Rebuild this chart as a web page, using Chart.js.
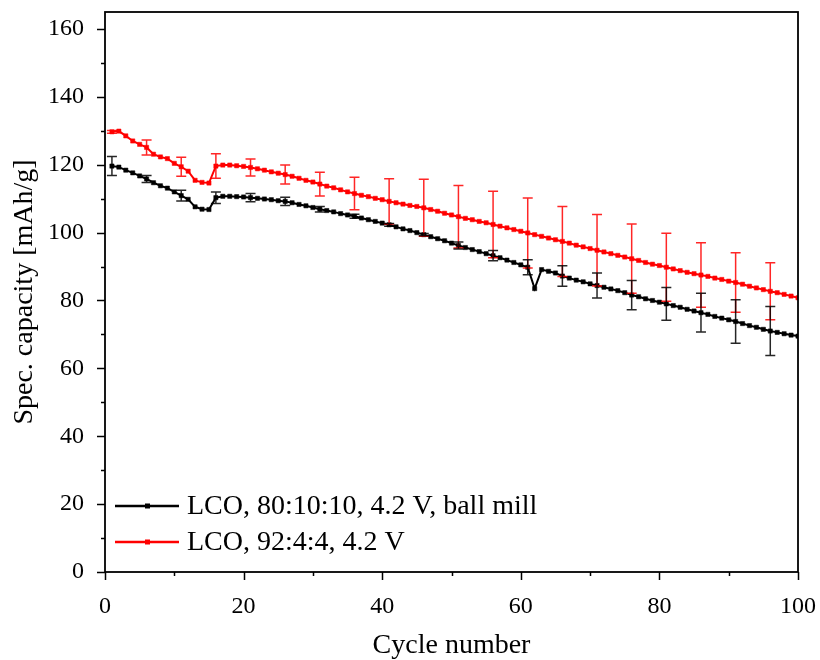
<!DOCTYPE html>
<html>
<head>
<meta charset="utf-8">
<script src="https://cdn.jsdelivr.net/npm/chart.js@4.4.1/dist/chart.umd.min.js"></script>
<style>
  html, body { margin: 0; padding: 0; background: #ffffff; }
  #wrap { width: 820px; height: 660px; position: relative; }
</style>
</head>
<body>
<div id="wrap"><canvas id="c" width="820" height="660"></canvas></div>
<script>
// ---------- data ----------
const cycles = [1,2,3,4,5,6,7,8,9,10,11,12,13,14,15,16,17,18,19,20,
  21,22,23,24,25,26,27,28,29,30,31,32,33,34,35,36,37,38,39,40,
  41,42,43,44,45,46,47,48,49,50,51,52,53,54,55,56,57,58,59,60,
  61,62,63,64,65,66,67,68,69,70,71,72,73,74,75,76,77,78,79,80,
  81,82,83,84,85,86,87,88,89,90,91,92,93,94,95,96,97,98,99,100];

const seriesLabels = ["LCO, 80:10:10, 4.2 V, ball mill", "LCO, 92:4:4, 4.2 V"];

const ballMill = [119.6,119.3,118.4,117.6,116.7,115.8,114.7,113.8,113.1,112.0,
  110.9,109.8,107.6,106.9,106.8,110.3,110.7,110.7,110.6,110.5,
  110.3,110.1,109.9,109.7,109.4,109.2,108.8,108.3,107.9,107.4,
  106.9,106.5,106.1,105.6,105.2,104.8,104.3,103.8,103.3,102.8,
  102.3,101.7,101.1,100.6,100.0,99.4,98.8,98.2,97.6,96.9,
  96.2,95.6,95.0,94.4,93.8,93.2,92.6,91.9,91.2,90.5,
  89.8,83.5,89.1,88.6,88.1,87.2,86.6,86.0,85.5,84.9,
  84.4,83.9,83.4,82.9,82.3,81.6,81.1,80.5,80.0,79.5,
  79.0,78.5,78.0,77.4,76.9,76.4,75.9,75.3,74.8,74.3,
  73.8,73.2,72.6,72.1,71.5,71.0,70.6,70.2,69.8,69.5];

const ratio92 = [129.7,129.9,128.5,127.0,126.0,125.1,123.1,122.3,121.8,120.4,
  119.4,118.1,115.4,114.8,114.6,119.6,119.9,119.9,119.7,119.5,
  119.2,118.8,118.4,117.9,117.5,117.1,116.6,116.0,115.4,114.9,
  114.3,113.7,113.2,112.6,112.0,111.5,111.0,110.6,110.1,109.7,
  109.2,108.8,108.4,108.0,107.7,107.3,106.8,106.3,105.7,105.2,
  104.7,104.2,103.8,103.3,102.9,102.4,101.9,101.4,100.9,100.4,
  99.9,99.4,98.9,98.4,97.9,97.4,96.9,96.3,95.8,95.3,
  94.8,94.3,93.8,93.3,92.8,92.3,91.8,91.2,90.7,90.3,
  89.8,89.3,88.8,88.3,87.9,87.5,87.1,86.6,86.2,85.7,
  85.3,84.8,84.2,83.7,83.2,82.7,82.3,81.8,81.3,80.8];

const errCycles = [1,6,11,16,21,26,31,36,41,46,51,56,61,66,71,76,81,86,91,96];
const ballMillErr = [2.8,1.0,1.6,1.7,1.2,1.2,0.8,0.6,0.4,0.3,1.0,1.5,2.2,3.0,3.7,4.3,4.8,5.7,6.4,7.2];
const ratio92Err = [0.4,2.2,2.8,3.6,2.5,2.8,3.5,4.8,6.7,8.4,9.2,9.8,10.3,10.3,10.5,10.2,10.0,9.5,8.8,8.4];

const xTickLabels = ["0","20","40","60","80","100"];
const yTickLabels = ["0","20","40","60","80","100","120","140","160"];

// ---------- chart ----------
const FONT = "'Liberation Serif', 'Times New Roman', serif";
const colors = ["#000000", "#ff0000"];
const errColors = ["rgba(0,0,0,0.85)", "rgba(255,0,0,0.85)"];
const allErr = [ballMillErr, ratio92Err];
const allSeries = [ballMill, ratio92];

function pts(vals) { return cycles.map((c, i) => ({ x: c, y: vals[i] })); }

const errorBarPlugin = {
  id: 'errorBars',
  afterDatasetsDraw(chart) {
    const ctx = chart.ctx, xs = chart.scales.x, ys = chart.scales.y;
    ctx.save();
    ctx.beginPath();
    ctx.rect(chart.chartArea.left, chart.chartArea.top, chart.chartArea.right - chart.chartArea.left, chart.chartArea.bottom - chart.chartArea.top);
    ctx.clip();
    for (let d = allSeries.length - 1; d >= 0; d--) {
      ctx.strokeStyle = errColors[d];
      ctx.lineWidth = 1.5;
      errCycles.forEach((c, k) => {
        const v = allSeries[d][cycles.indexOf(c)];
        const e = allErr[d][k];
        const px = xs.getPixelForValue(c);
        const t = ys.getPixelForValue(v + e);
        const b = ys.getPixelForValue(v - e);
        ctx.beginPath();
        ctx.moveTo(px, t); ctx.lineTo(px, b);
        ctx.moveTo(px - 5, t); ctx.lineTo(px + 5, t);
        ctx.moveTo(px - 5, b); ctx.lineTo(px + 5, b);
        ctx.stroke();
      });
    }
    ctx.restore();
  }
};

const framePlugin = {
  id: 'frame',
  afterDraw(chart) {
    const ctx = chart.ctx, a = chart.chartArea, xs = chart.scales.x, ys = chart.scales.y;
    ctx.save();
    ctx.strokeStyle = '#000';
    ctx.lineWidth = 1.8;
    ctx.strokeRect(a.left, a.top, a.right - a.left, a.bottom - a.top);
    ctx.lineWidth = 1.5;
    ctx.beginPath();
    for (let v = 0; v <= 160; v += 10) {
      const py = Math.round(ys.getPixelForValue(v)) + 0.5;
      const len = (v % 20 === 0) ? 8 : 4;
      ctx.moveTo(a.left, py); ctx.lineTo(a.left - len, py);
    }
    for (let v = 0; v <= 100; v += 10) {
      const px = Math.round(xs.getPixelForValue(v)) + 0.5;
      const len = (v % 20 === 0) ? 8 : 4;
      ctx.moveTo(px, a.bottom); ctx.lineTo(px, a.bottom + len);
    }
    ctx.stroke();

    // legend inside plot area
    const rows = [506, 542];
    ctx.font = "28px " + FONT;
    ctx.textBaseline = 'middle';
    ctx.textAlign = 'left';
    chart.data.datasets.forEach((ds, i) => {
      const y = rows[i];
      ctx.strokeStyle = colors[i];
      ctx.lineWidth = 2.5;
      ctx.beginPath();
      ctx.moveTo(115, y); ctx.lineTo(179, y);
      ctx.stroke();
      ctx.fillStyle = colors[i];
      ctx.fillRect(145, y - 2.5, 5, 5);
      ctx.fillStyle = '#000';
      ctx.fillText(ds.label, 187, y + 1);
    });
    ctx.restore();
  }
};

function noPad(s) { s.paddingTop = 0; s.paddingBottom = 0; s.paddingLeft = 0; s.paddingRight = 0; }

new Chart(document.getElementById('c'), {
  type: 'scatter',
  data: {
    datasets: [
      { label: seriesLabels[0], data: pts(ballMill), showLine: true,
        borderColor: colors[0], backgroundColor: colors[0], borderWidth: 2,
        pointStyle: 'rect', pointRadius: 3, pointBorderWidth: 0.5, pointHoverRadius: 3 },
      { label: seriesLabels[1], data: pts(ratio92), showLine: true,
        borderColor: colors[1], backgroundColor: colors[1], borderWidth: 2,
        pointStyle: 'rect', pointRadius: 3, pointBorderWidth: 0.5, pointHoverRadius: 3 }
    ]
  },
  options: {
    responsive: false,
    animation: false,
    devicePixelRatio: 1,
    layout: { padding: { top: 12, right: 22, left: 0, bottom: 0 } },
    plugins: { legend: { display: false }, tooltip: { enabled: false } },
    scales: {
      x: {
        type: 'linear', min: 0, max: 100,
        grid: { display: false, drawTicks: false },
        border: { display: false },
        ticks: { stepSize: 20, padding: 20, color: '#000', maxRotation: 0,
                 font: { family: FONT, size: 24 },
                 callback: (v) => xTickLabels.includes(String(v)) ? String(v) : '' },
        title: { display: true, text: 'Cycle number', color: '#000',
                 font: { family: FONT, size: 28, lineHeight: 1.0 }, padding: { top: 0, bottom: 0 } },
        afterFit: (s) => { s.height = 88; noPad(s); }
      },
      y: {
        type: 'linear', min: 0, max: 165,
        grid: { display: false, drawTicks: false },
        border: { display: false },
        ticks: { stepSize: 20, includeBounds: false, padding: 21, color: '#000',
                 font: { family: FONT, size: 24 },
                 callback: (v) => yTickLabels.includes(String(v)) ? String(v) : '' },
        title: { display: true, text: 'Spec. capacity [mAh/g]', color: '#000',
                 font: { family: FONT, size: 28, lineHeight: 1.0 }, padding: { top: 11, bottom: 0 } },
        afterFit: (s) => { s.width = 105; noPad(s); }
      }
    }
  },
  plugins: [errorBarPlugin, framePlugin]
});
</script>
</body>
</html>
